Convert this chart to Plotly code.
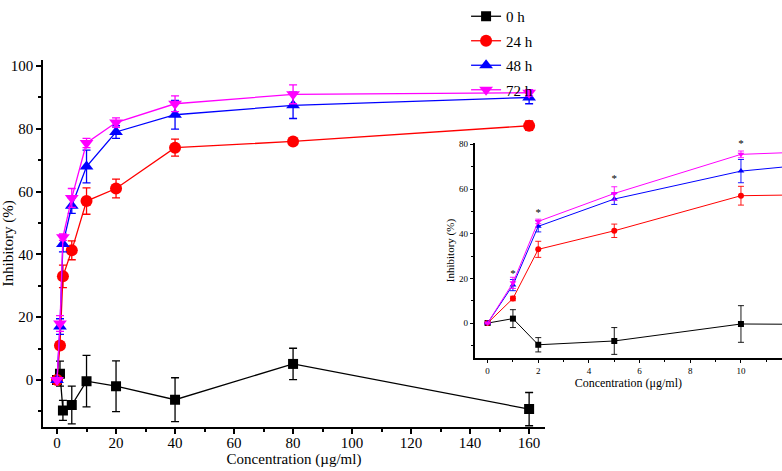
#!/usr/bin/env python3
"""
Inhibitory rate vs concentration at 0/24/48/72 h, with inset zoom on 0-10 ug/ml
"""

import plotly.graph_objects as go

# Data
conc = [0, 1, 2, 5, 10, 20, 40, 80, 160]

inh_0h = [0, 2, -9.7, -8, -0.4, -2, -6.3, 5.1, -9.3]
err_0h = [0, 4, 3.2, 6, 8.2, 8.1, 7, 5, 5.3]

inh_24h = [0, 11, 33, 41.3, 57, 61, 74, 76, 81]
err_24h = [0, 1, 3.6, 3, 4.2, 3, 2.7, 1, 1.5]

inh_48h = [0, 17, 43.3, 55.5, 68, 79, 84.5, 87.5, 90]
err_48h = [0, 2.5, 2.5, 2.4, 5.2, 2, 4.6, 4.2, 2]

inh_72h = [0, 18, 45.5, 58, 75.5, 82, 88, 91, 91.5]
err_72h = [0, 2.5, 1, 3, 1.5, 1.5, 2.5, 3, 1]

series = [
    ("0 h", inh_0h, err_0h, "black", "square", 10),
    ("24 h", inh_24h, err_24h, "red", "circle", 12),
    ("48 h", inh_48h, err_48h, "blue", "triangle-up", 12),
    ("72 h", inh_72h, err_72h, "magenta", "triangle-down", 12),
]

# significance stars in the inset (x, y)
star_x = [1, 2, 5, 10]
star_y = [22, 49, 64.5, 80]

FONT = "Liberation Serif"

fig = go.Figure()

for name, y, err, color, symbol, size in series:
    # main panel
    fig.add_trace(go.Scatter(
        x=conc, y=y, name=name, legendgroup=name, mode="lines+markers",
        line=dict(color=color, width=1.3),
        marker=dict(symbol=symbol, size=size, color=color),
        error_y=dict(type="data", array=err, color=color, thickness=1.3, width=4),
        xaxis="x", yaxis="y",
    ))
    # inset
    fig.add_trace(go.Scatter(
        x=conc, y=y, name=name, legendgroup=name, mode="lines+markers", showlegend=False,
        line=dict(color=color, width=1),
        marker=dict(symbol=symbol, size=6, color=color),
        error_y=dict(type="data", array=err, color=color, thickness=0.9, width=3),
        xaxis="x2", yaxis="y2",
    ))

fig.add_trace(go.Scatter(
    x=star_x, y=star_y, mode="text", text=["*"] * len(star_x),
    textfont=dict(family=FONT, size=11, color="black"),
    showlegend=False, xaxis="x2", yaxis="y2", cliponaxis=False,
))

axis_common = dict(
    showline=True, linecolor="black", linewidth=1.5, mirror=False,
    ticks="outside", tickcolor="black", showgrid=False, zeroline=False,
    automargin=False,
)

fig.update_layout(
    width=782, height=471,
    margin=dict(l=0, r=0, t=0, b=0),
    paper_bgcolor="white", plot_bgcolor="rgba(0,0,0,0)",
    font=dict(family=FONT, color="black"),
    xaxis=dict(
        **axis_common, domain=[0.055, 0.697], range=[-4.75, 165.4],
        tickvals=[0, 20, 40, 60, 80, 100, 120, 140, 160], ticklen=5, tickwidth=1.5,
        tickfont=dict(size=15), ticklabelstandoff=-4,
        minor=dict(dtick=10, ticks="outside", ticklen=3, tickcolor="black"),
        title=dict(text="Concentration (µg/ml)", font=dict(size=15), standoff=4),
        anchor="y",
    ),
    yaxis=dict(
        **axis_common, domain=[0.0934, 0.873], range=[-15, 102],
        tickvals=[0, 20, 40, 60, 80, 100], ticklen=5, tickwidth=1.5,
        tickfont=dict(size=15),
        minor=dict(dtick=10, ticks="outside", ticklen=3, tickcolor="black"),
        title=dict(text="Inhibitory (%)", font=dict(size=15), standoff=6),
        anchor="x",
    ),
    xaxis2=dict(
        **axis_common, domain=[0.607, 1.0], range=[-0.51, 11.62],
        tickvals=[0, 2, 4, 6, 8, 10], ticklen=3, tickwidth=1,
        tickfont=dict(size=9),
        minor=dict(dtick=1, ticks="outside", ticklen=2, tickcolor="black"),
        title=dict(text="Concentration (μg/ml)", font=dict(size=12), standoff=2),
        anchor="y2",
    ),
    yaxis2=dict(
        **axis_common, domain=[0.240, 0.696], range=[-15.6, 80.5],
        tickvals=[0, 20, 40, 60, 80], ticklen=3, tickwidth=1,
        tickfont=dict(size=9),
        minor=dict(dtick=10, ticks="outside", ticklen=2, tickcolor="black"),
        title=dict(text="Inhibitory (%)", font=dict(size=11), standoff=2),
        anchor="x2",
    ),
    legend=dict(
        x=0.596, y=1.0, xanchor="left", yanchor="top",
        bgcolor="rgba(0,0,0,0)", font=dict(size=15),
        tracegroupgap=2,
    ),
)

# drop the default page margin so the figure sits at the window corner
fig.write_html(
    "out.html",
    config={"displayModeBar": False},
    post_script="document.body.style.margin = '0';",
)
